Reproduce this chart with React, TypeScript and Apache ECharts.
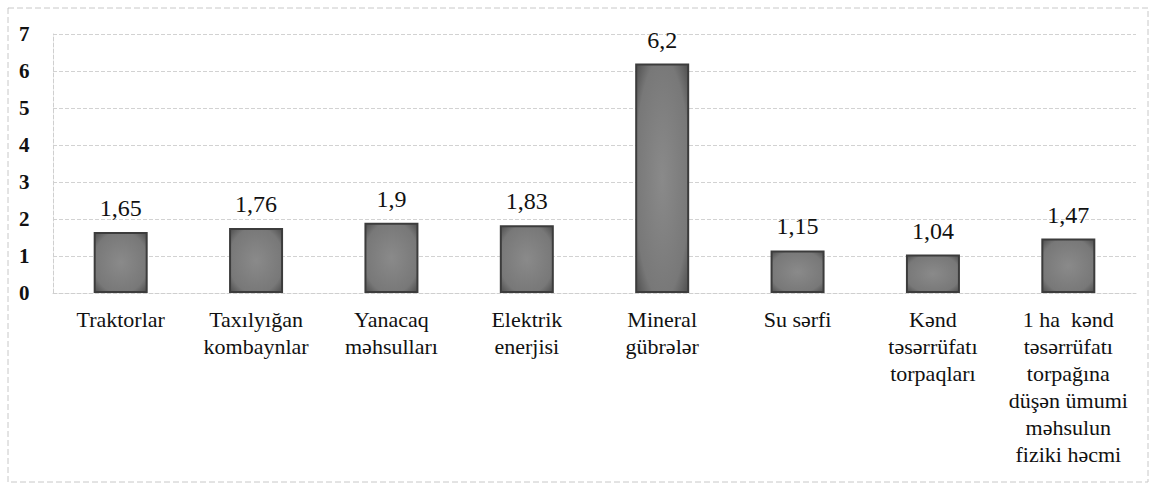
import React, { useEffect, useRef } from "react";
import * as echarts from "echarts";

const categories = [
  "Traktorlar",
  "Taxılyığan\nkombaynlar",
  "Yanacaq\nməhsulları",
  "Elektrik\nenerjisi",
  "Mineral\ngübrələr",
  "Su sərfi",
  "Kənd\ntəsərrüfatı\ntorpaqları",
  "1 ha  kənd\ntəsərrüfatı\ntorpağına\ndüşən ümumi\nməhsulun\nfiziki həcmi",
];
const values = [1.65, 1.76, 1.9, 1.83, 6.2, 1.15, 1.04, 1.47];
const yTicks = [0, 1, 2, 3, 4, 5, 6, 7];

export default function App() {
  const ref = useRef<HTMLDivElement>(null);
  useEffect(() => {
    if (!ref.current) return;
    const chart = echarts.init(ref.current, null, { renderer: "svg" });
    const font = "'Liberation Serif', 'DejaVu Serif', serif";
    chart.setOption({
      animation: false,
      backgroundColor: "#fff",
      graphic: [
        {
          type: "rect",
          shape: { x: 8, y: 8, width: 1140, height: 474 },
          style: { fill: "none", stroke: "#c8c8c8", lineWidth: 1, lineDash: [6, 3] },
          silent: true,
        },
      ],
      grid: { left: 53, right: 16, top: 34, bottom: 193, containLabel: false },
      xAxis: {
        type: "category",
        data: categories,
        axisLine: { show: true, lineStyle: { color: "#cfcfcf", type: "dashed" } },
        axisTick: { show: false },
        axisLabel: {
          interval: 0,
          color: "#111",
          fontFamily: font,
          fontSize: 22,
          lineHeight: 27,
          margin: 13,
          verticalAlign: "top",
        },
      },
      yAxis: {
        type: "value",
        min: 0,
        max: 7,
        interval: 1,
        axisLine: { show: true, lineStyle: { color: "#cfcfcf", type: "dashed" } },
        axisTick: { show: false },
        splitLine: { show: true, lineStyle: { color: "#d2d2d2", type: "dashed" } },
        axisLabel: {
          color: "#111",
          fontFamily: font,
          fontSize: 21,
          fontWeight: "bold",
          margin: 34,
          align: "left",
          formatter: (v: number) => (yTicks.includes(v) ? String(v) : ""),
        },
      },
      series: [
        {
          type: "bar",
          data: values,
          barWidth: 54,
          itemStyle: {
            color: {
              type: "radial",
              x: 0.5,
              y: 0.5,
              r: 0.75,
              colorStops: [
                { offset: 0, color: "#8a8a8a" },
                { offset: 0.7, color: "#787878" },
                { offset: 1, color: "#444" },
              ],
            },
            borderColor: "#3c3c3c",
            borderWidth: 2,
          },
          label: {
            show: true,
            position: "top",
            distance: 12,
            color: "#111",
            fontFamily: font,
            fontSize: 24,
            formatter: (p: any) => String(p.value).replace(".", ","),
          },
        },
      ],
    });
    return () => chart.dispose();
  }, []);
  return (
    <div
      ref={ref}
      style={{ position: "fixed", left: 0, top: 0, width: 1152, height: 486 }}
    />
  );
}
